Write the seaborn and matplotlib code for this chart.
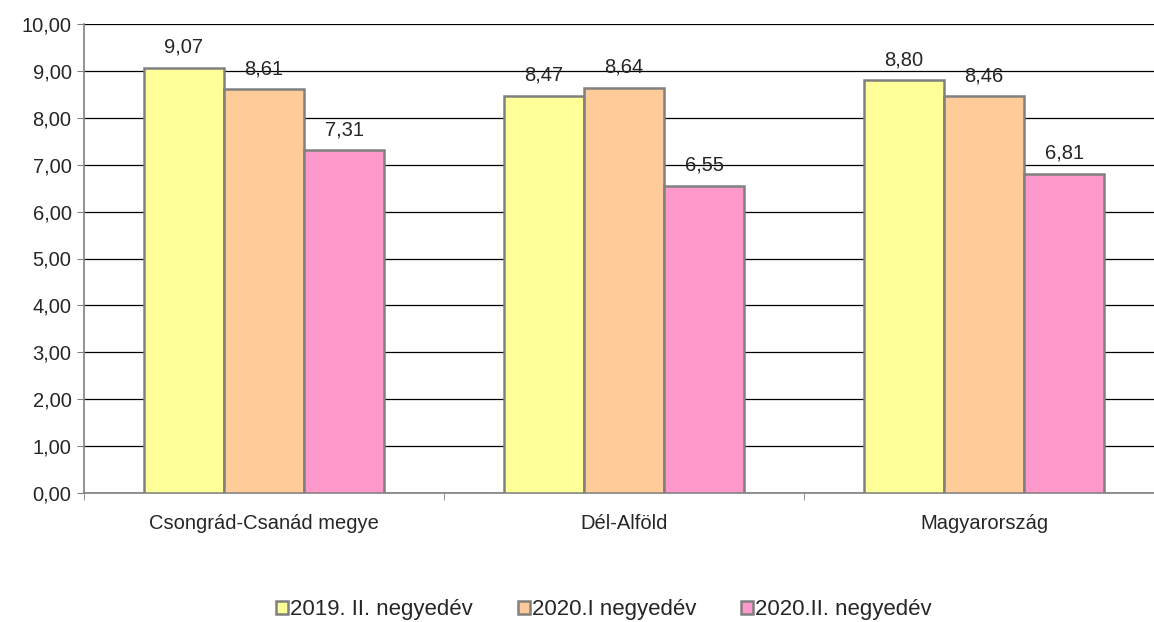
import pandas as pd
import matplotlib
matplotlib.use('Agg')
import matplotlib.pyplot as plt
import seaborn as sns
from matplotlib.ticker import FixedLocator, FuncFormatter

regions = ['Csongrád-Csanád megye', 'Dél-Alföld', 'Magyarország']
periods = ['2019. II. negyedév', '2020.I negyedév', '2020.II. negyedév']
v2019_q2 = [9.07, 8.47, 8.80]
v2020_q1 = [8.61, 8.64, 8.46]
v2020_q2 = [7.31, 6.55, 6.81]
colors = ['#FFFF99', '#FFCC99', '#FF99CC']

df = pd.DataFrame({
    'region': regions * 3,
    'period': [periods[0]] * 3 + [periods[1]] * 3 + [periods[2]] * 3,
    'value': v2019_q2 + v2020_q1 + v2020_q2,
})

sns.set_style('white')
plt.rcParams['font.family'] = ['Liberation Sans', 'DejaVu Sans']

fig = plt.figure(figsize=(11.54, 6.22), dpi=100)
ax = fig.add_axes([84 / 1154, 129 / 622, 1 - 84 / 1154, 469 / 622])

sns.barplot(data=df, x='region', y='value', hue='period', hue_order=periods,
            palette=colors, saturation=1, width=0.667, edgecolor='#808080',
            linewidth=1.8, ax=ax, zorder=3, legend=True)

# value labels above bars, hungarian decimal comma
for cont in ax.containers:
    ax.bar_label(cont, labels=[f'{v:.2f}'.replace('.', ',') for v in cont.datavalues],
                 padding=8, fontsize=14.5)

ax.set_ylim(0, 10)
ax.set_xlim(-0.5, 2.472)
ax.set_yticks(range(0, 11))
ax.yaxis.set_major_formatter(FuncFormatter(lambda v, p: f'{v:.2f}'.replace('.', ',')))
ax.yaxis.grid(True, color='black', linewidth=0.9, zorder=0)
ax.set_axisbelow(True)
ax.tick_params(axis='y', labelsize=14.5, length=5, color='#808080', direction='out',
               left=True, pad=4)
ax.tick_params(axis='x', which='major', labelsize=14.5, length=0, pad=15)
ax.xaxis.set_minor_locator(FixedLocator([-0.5, 0.5, 1.5]))
ax.tick_params(axis='x', which='minor', length=5, color='#808080', direction='out', bottom=True)
ax.set_xlabel('')
ax.set_ylabel('')
for s in ['top', 'right']:
    ax.spines[s].set_visible(False)
for s in ['left', 'bottom']:
    ax.spines[s].set_color('#808080')
    ax.spines[s].set_linewidth(1.2)

ax.legend(loc='center', bbox_to_anchor=(604 / 1154, 12 / 622), bbox_transform=fig.transFigure,
          ncol=3, frameon=False, fontsize=16, handlelength=0.55, handleheight=0.55,
          handletextpad=0.1, columnspacing=2.0)

fig.savefig('out.png', dpi=100)
